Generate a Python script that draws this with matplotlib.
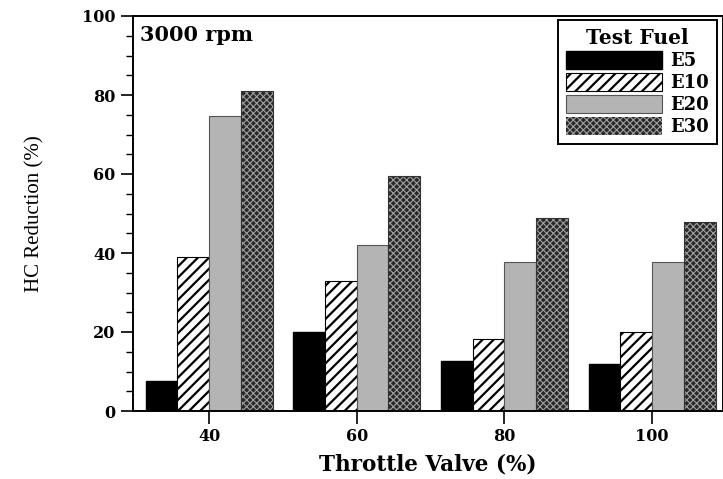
import matplotlib
matplotlib.use('Agg')
import matplotlib.pyplot as plt
import numpy as np

throttle = [40, 60, 80, 100]
fuels = ['E5', 'E10', 'E20', 'E30']
e5 = [7.5, 20.0, 12.7, 12.0]
e10 = [39.0, 32.8, 18.3, 20.0]
e20 = [74.8, 42.0, 37.6, 37.6]
e30 = [81.0, 59.6, 48.8, 47.8]

plt.rcParams['font.family'] = ['Liberation Serif', 'DejaVu Serif']
plt.rcParams['hatch.linewidth'] = 1.6
wide = 'DejaVu Serif'   # wider glyphs stand in for the letter-spaced bold text

fig = plt.figure(figsize=(7.23, 4.79), dpi=100)
ax = fig.add_axes([133 / 723, 68 / 479, 590 / 723, 395 / 479])

x = np.array(throttle, dtype=float)
w = 4.3
ax.bar(x - 1.5 * w, e5, w, color='black', edgecolor='black', label=fuels[0])
ax.bar(x - 0.5 * w, e10, w, color='white', edgecolor='black', hatch='///', lw=0.8, label=fuels[1])
ax.bar(x + 0.5 * w, e20, w, color='#b4b4b4', edgecolor='#555555', lw=0.8, label=fuels[2])
with plt.rc_context({'hatch.linewidth': 0.8}):
    ax.bar(x + 1.5 * w, e30, w, color='#282828', edgecolor='#a0a0a0', hatch='xxxxx', lw=0, label=fuels[3])
ax.bar(x + 1.5 * w, e30, w, fill=False, edgecolor='#333333', lw=0.8)

ax.set_xlim(29.7, 109.6)
ax.set_ylim(0, 100)
ax.set_xticks(throttle)
ax.set_yticks(range(0, 101, 20))
ax.set_yticks(range(0, 101, 5), minor=True)
ax.tick_params(axis='both', which='major', direction='out', length=9, width=1.2,
               labelsize=11.5)
ax.tick_params(axis='y', which='minor', direction='out', length=5, width=1)
for lab in ax.get_xticklabels() + ax.get_yticklabels():
    lab.set_fontweight('bold')
    lab.set_family(wide)
for s in ax.spines.values():
    s.set_linewidth(1.4)

ax.set_xlabel('Throttle Valve (%)', fontsize=15.5, fontweight='bold', family=wide, labelpad=6)
ax.set_ylabel('HC Reduction (%)', fontsize=15, labelpad=27)
ax.text(0.012, 0.978, '3000 rpm', transform=ax.transAxes, fontsize=15,
        fontweight='bold', family=wide, va='top', ha='left')

leg = ax.legend(title='Test Fuel', loc='upper right', bbox_to_anchor=(0.9898, 0.990),
                borderaxespad=0, fancybox=False, edgecolor='black', framealpha=1,
                handlelength=5.3, handleheight=1.1, labelspacing=0.18,
                handletextpad=0.45, borderpad=0.45,
                prop={'weight': 'bold', 'size': 13, 'family': wide},
                title_fontproperties={'weight': 'bold', 'size': 14.5, 'family': wide})
leg.get_frame().set_linewidth(1.4)
h30 = leg.legend_handles[3]
if hasattr(h30, 'set_hatch_linewidth'):
    h30.set_hatch_linewidth(0.8)
else:
    h30._hatch_linewidth = 0.8

fig.savefig('out.png', dpi=100)
